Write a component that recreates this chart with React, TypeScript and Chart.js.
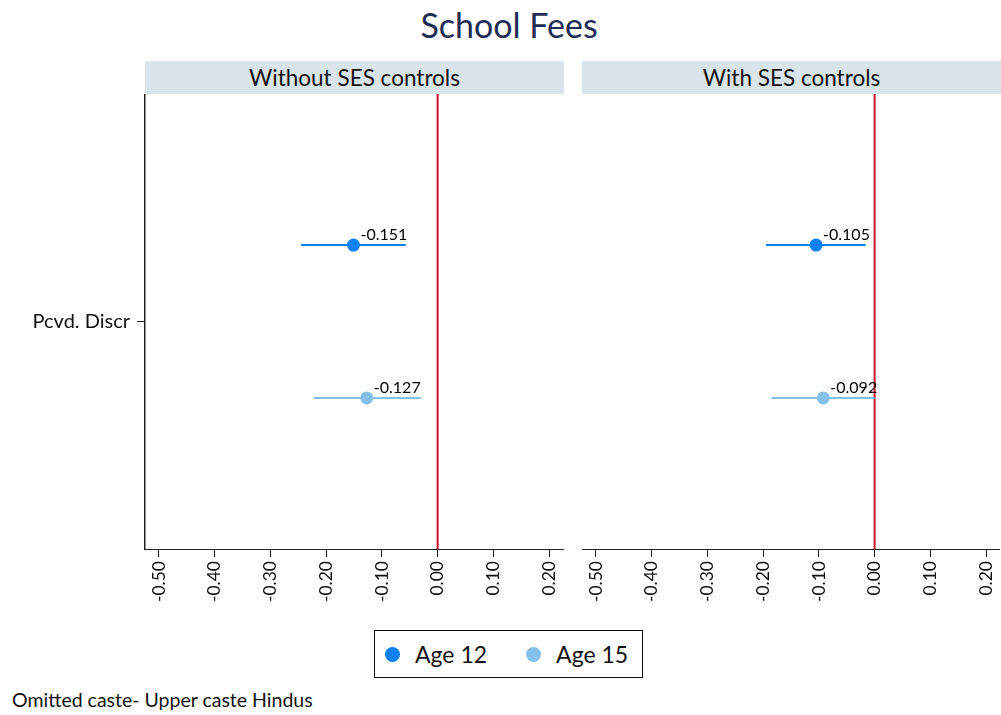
import React, { useEffect, useRef } from "react";
import { Chart, registerables } from "chart.js";

Chart.register(...registerables);

const chartTitle = "School Fees";
const panelTitles = ["Without SES controls", "With SES controls"];
const categoryLabel = "Pcvd. Discr";
const seriesNames = ["Age 12", "Age 15"];
const seriesColors = ["#0a80f5", "#85c0ea"];
const refLineColor = "#c8102e";

// coefficients per panel [Without SES, With SES]
const age12Coef = [-0.151, -0.105];
const age12Lo = [-0.245, -0.195];
const age12Hi = [-0.057, -0.016];
const age15Coef = [-0.127, -0.092];
const age15Lo = [-0.222, -0.185];
const age15Hi = [-0.030, 0.0];

const xTicks = [-0.5, -0.4, -0.3, -0.2, -0.1, 0.0, 0.1, 0.2];
const xMin = -0.525;
const xMax = 0.225;
const footnote = "Omitted caste- Upper caste Hindus";

const FONT = "Lato, 'Open Sans', sans-serif";
const seriesY = [0.668, 0.332];

const labelPlugin = {
  id: "coefLabels",
  afterDatasetsDraw(chart: any) {
    const { ctx } = chart;
    const xs = chart.scales.x;
    const ys = chart.scales.y;
    const pts = chart.options.plugins.coefLabels.points as { x: number; y: number }[];
    ctx.save();
    ctx.font = `16px ${FONT}`;
    ctx.fillStyle = "#000";
    ctx.textAlign = "left";
    ctx.textBaseline = "middle";
    pts.forEach((p) => {
      const px = xs.getPixelForValue(p.x);
      const py = ys.getPixelForValue(p.y);
      ctx.fillText(p.x.toFixed(3), px + 7, py - 10);
    });
    ctx.restore();
  },
};

function Panel({ idx, showY }: { idx: number; showY: boolean }) {
  const ref = useRef<HTMLCanvasElement>(null);
  useEffect(() => {
    if (!ref.current) return;
    const coefs = [age12Coef[idx], age15Coef[idx]];
    const los = [age12Lo[idx], age15Lo[idx]];
    const his = [age12Hi[idx], age15Hi[idx]];
    const pointSets = seriesNames.map((name, s) => ({
      label: name,
      data: [{ x: coefs[s], y: seriesY[s] }],
      backgroundColor: seriesColors[s],
      borderColor: seriesColors[s],
      borderWidth: 0,
      pointRadius: 6.5,
      showLine: false,
    }));
    const ciSets = seriesNames.map((name, s) => ({
      label: name + " CI",
      data: [
        { x: los[s], y: seriesY[s] },
        { x: his[s], y: seriesY[s] },
      ],
      borderColor: seriesColors[s],
      backgroundColor: seriesColors[s],
      borderWidth: 2,
      pointRadius: 0,
      showLine: true,
    }));
    const refSet = {
      label: "ref",
      data: [
        { x: 0, y: 0 },
        { x: 0, y: 1 },
      ],
      borderColor: refLineColor,
      borderWidth: 2,
      pointRadius: 0,
      showLine: true,
    };
    const chart = new Chart(ref.current, {
      type: "scatter",
      data: { datasets: [...pointSets, ...ciSets, refSet] as any },
      options: {
        animation: false,
        responsive: false,
        maintainAspectRatio: false,
        layout: { autoPadding: false, padding: { left: 0, right: showY ? 7 : 0, top: 0, bottom: 0 } },
        plugins: {
          legend: { display: false },
          tooltip: { enabled: false },
          coefLabels: {
            points: coefs.map((c, s) => ({ x: c, y: seriesY[s] })),
          },
        } as any,
        scales: {
          x: {
            type: "linear",
            min: xMin,
            max: xMax,
            afterBuildTicks: (s: any) => {
              s.ticks = xTicks.map((v) => ({ value: v }));
            },
            afterFit: (s: any) => {
              s.height = 65;
              s.paddingLeft = 0;
              s.paddingRight = 0;
              s.paddingTop = 0;
              s.paddingBottom = 0;
            },
            ticks: {
              minRotation: 90,
              maxRotation: 90,
              autoSkip: false,
              padding: 4,
              color: "#111",
              font: { family: FONT, size: 17.5 },
              callback: (v: any) => Number(v).toFixed(2),
            },
            grid: {
              drawOnChartArea: false,
              drawTicks: true,
              tickLength: 8,
              color: "#222",
              tickColor: "#222",
            },
            border: { display: true, color: "#222", width: 1 },
          },
          y: {
            type: "linear",
            min: 0,
            max: 1,
            display: showY,
            afterBuildTicks: (s: any) => {
              s.ticks = [{ value: 0.5 }];
            },
            afterFit: (s: any) => {
              s.width = showY ? 145 : 0;
              s.paddingTop = 0;
              s.paddingBottom = 0;
              s.paddingLeft = 0;
              s.paddingRight = 0;
            },
            ticks: {
              padding: 7,
              color: "#111",
              font: { family: FONT, size: 20 },
              callback: () => categoryLabel,
            },
            grid: {
              drawOnChartArea: false,
              drawTicks: true,
              tickLength: 8,
              color: "#222",
              tickColor: "#222",
            },
            border: { display: true, color: "#222", width: 1.5 },
          },
        },
      },
      plugins: [labelPlugin],
    });
    return () => chart.destroy();
  }, [idx, showY]);
  const w = showY ? 570 : 418;
  return <canvas ref={ref} width={w} height={520} style={{ width: w, height: 520, display: "block" }} />;
}

export default function App() {
  const headerStyle: React.CSSProperties = {
    position: "absolute",
    top: 61,
    height: 33,
    background: "#dae5eb",
    display: "flex",
    alignItems: "center",
    justifyContent: "center",
    fontFamily: FONT,
    fontSize: 22.5,
    color: "#111",
  };
  return (
    <div
      style={{
        position: "fixed",
        left: 0,
        top: 0,
        width: 1001,
        height: 715,
        background: "#fff",
        overflow: "hidden",
        fontFamily: FONT,
      }}
    >
      <div
        style={{
          position: "absolute",
          left: 0,
          width: 1018,
          top: 3,
          textAlign: "center",
          fontSize: 34,
          color: "#1f2d55",
          lineHeight: "44px",
        }}
      >
        {chartTitle}
      </div>
      <div style={{ ...headerStyle, left: 145, width: 419 }}>{panelTitles[0]}</div>
      <div style={{ ...headerStyle, left: 582, width: 419 }}>{panelTitles[1]}</div>
      <div style={{ position: "absolute", left: 0, top: 94 }}>
        <Panel idx={0} showY={true} />
      </div>
      <div style={{ position: "absolute", left: 582, top: 94 }}>
        <Panel idx={1} showY={false} />
      </div>
      <div
        style={{
          position: "absolute",
          left: 374,
          top: 630,
          width: 267,
          height: 46,
          border: "1.5px solid #111",
          display: "flex",
          alignItems: "center",
          fontSize: 23,
          color: "#111",
        }}
      >
        {seriesNames.map((n, i) => (
          <div key={n} style={{ display: "flex", alignItems: "center", marginLeft: i === 0 ? 10 : 39 }}>
            <span
              style={{
                display: "inline-block",
                width: 15,
                height: 15,
                borderRadius: "50%",
                background: seriesColors[i],
                marginRight: 15,
              }}
            />
            <span>{n}</span>
          </div>
        ))}
      </div>
      <div style={{ position: "absolute", left: 12, top: 688, fontSize: 19.5, color: "#111" }}>{footnote}</div>
    </div>
  );
}
